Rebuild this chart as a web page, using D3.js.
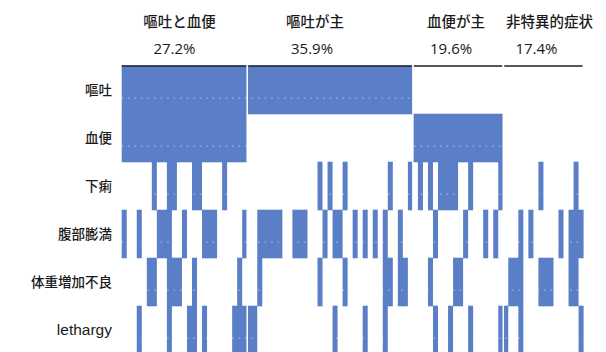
<!DOCTYPE html>
<html>
<head>
<meta charset="utf-8">
<script src="https://cdn.jsdelivr.net/npm/d3@7"></script>
<style>
  html, body { margin: 0; padding: 0; background: #fff; }
  svg { display: block; }
</style>
</head>
<body>
<div id="chart"></div>
<script>
// 症状の行ラベル
const symptoms = ["嘔吐", "血便", "下痢", "腹部膨満", "体重増加不良", "lethargy"];

// 4つの病型グループ
const groupNames = ["嘔吐と血便", "嘔吐が主", "血便が主", "非特異的症状"];
const groupSizes = [25, 33, 18, 16];
const groupPct = ["27.2%", "35.9%", "19.6%", "17.4%"];

// 嘔吐・血便はグループ単位で該当
const vomitGroups = [0, 1];
const bloodGroups = [0, 2];

// 症例番号 (0-91) ごとの該当
const diarrhea = [6, 9, 10, 14, 15, 20, 39, 41, 44, 53, 57, 59, 61, 63, 64, 65, 66, 69, 75, 83, 90];
const distension = [0, 3, 7, 8, 9, 12, 16, 17, 18, 24, 27, 28, 29, 30, 31, 34, 35, 36, 40, 42, 43,
  46, 48, 50, 52, 55, 62, 68, 72, 74, 79, 81, 87, 89, 90, 91];
const poorGain = [5, 6, 9, 10, 11, 14, 23, 27, 39, 44, 52, 53, 55, 56, 61, 66, 67, 77, 78, 79,
  83, 84, 85, 89, 90];
const lethargy = [3, 9, 13, 14, 16, 22, 23, 24, 25, 26, 42, 48, 52, 62, 65, 69, 75, 76, 79, 91];

const width = 606, height = 352;
const blue = "#5b7fc6";

const svg = d3.select("#chart").append("svg")
    .attr("width", width)
    .attr("height", height);

const total = d3.sum(groupSizes);
const starts = d3.cumsum([0, ...groupSizes]); // 各グループの開始症例

// 症例 -> グループ
const groupOf = i => d3.bisectRight(starts, i) - 1;

const x = d3.scaleLinear().domain([0, total]).range([121.7, 583.6]);
const y = d3.scaleBand().domain(symptoms).range([66, 354]);

const rowSets = {
    "嘔吐": d3.range(total).filter(i => vomitGroups.includes(groupOf(i))),
    "血便": d3.range(total).filter(i => bloodGroups.includes(groupOf(i))),
    "下痢": diarrhea,
    "腹部膨満": distension,
    "体重増加不良": poorGain,
    "lethargy": lethargy
};

// 連続する症例をひとつの帯にまとめる (継ぎ目が出ないように)
const runs = [];
symptoms.forEach(s => {
    const idx = rowSets[s].slice().sort((a, b) => a - b);
    let cur = null;
    idx.forEach(i => {
        if (cur && i === cur.end + 1 && groupOf(i) === groupOf(cur.start)) {
            cur.end = i;
        } else {
            cur = { s, start: i, end: i };
            runs.push(cur);
        }
    });
});

svg.append("g")
    .selectAll("rect")
    .data(runs)
    .join("rect")
    .attr("x", d => x(d.start))
    .attr("y", d => y(d.s) - 0.3)
    .attr("width", d => x(d.end + 1) - x(d.start))
    .attr("height", y.bandwidth() + 0.6)
    .attr("fill", blue);

// スキャン由来の白い点線
svg.append("g")
    .selectAll("line")
    .data(symptoms)
    .join("line")
    .attr("x1", x(0))
    .attr("x2", x(total))
    .attr("y1", d => y(d) + y.bandwidth() * 0.67)
    .attr("y2", d => y(d) + y.bandwidth() * 0.67)
    .attr("stroke", "#fff")
    .attr("stroke-opacity", 0.55)
    .attr("stroke-width", 1)
    .attr("stroke-dasharray", "1.5,5");

// グループ境界の白線
svg.append("g")
    .selectAll("line")
    .data(starts.slice(1, -1))
    .join("line")
    .attr("x1", d => x(d))
    .attr("x2", d => x(d))
    .attr("y1", y.range()[0])
    .attr("y2", y.range()[1])
    .attr("stroke", "#fff")
    .attr("stroke-width", 1.5);

// 上端の黒線
svg.append("g")
    .selectAll("line")
    .data(groupSizes)
    .join("line")
    .attr("x1", (d, k) => x(starts[k]) + (k ? 1 : 0))
    .attr("x2", (d, k) => x(starts[k + 1]) - 1)
    .attr("y1", 66)
    .attr("y2", 66)
    .attr("stroke", "#1f1f28")
    .attr("stroke-width", 1.6);

// 見出し
const headNudge = [-5, -15, -2, 6];
const pctNudge = [-10, -18, -7, -7];
const mid = k => (x(starts[k]) + x(starts[k + 1])) / 2;

svg.append("g")
    .selectAll("text")
    .data(groupNames)
    .join("text")
    .attr("x", (d, k) => mid(k) + headNudge[k])
    .attr("y", 27)
    .attr("text-anchor", "middle")
    .style("font-family", "'Noto Sans CJK JP', sans-serif")
    .style("font-size", "14.5px")
    .style("font-weight", 500)
    .attr("fill", "#1a1a1a")
    .text(d => d);

svg.append("g")
    .selectAll("text")
    .data(groupPct)
    .join("text")
    .attr("x", (d, k) => mid(k) + pctNudge[k])
    .attr("y", 54)
    .attr("text-anchor", "middle")
    .style("font-family", "'Open Sans', sans-serif")
    .style("font-size", "15px")
    .attr("fill", "#1a1a1a")
    .text(d => d);

// 行ラベル
svg.append("g")
    .selectAll("text")
    .data(symptoms)
    .join("text")
    .attr("x", 112)
    .attr("y", d => y(d) + y.bandwidth() / 2)
    .attr("dy", "0.35em")
    .attr("text-anchor", "end")
    .style("font-family", d => d === "lethargy" ? "'Liberation Sans', Arial, sans-serif" : "'Noto Sans CJK JP', sans-serif")
    .style("font-size", d => d === "lethargy" ? "15.5px" : "13.5px")
    .style("font-weight", d => d === "lethargy" ? 400 : 500)
    .attr("fill", "#1a1a1a")
    .text(d => d);
</script>
</body>
</html>
